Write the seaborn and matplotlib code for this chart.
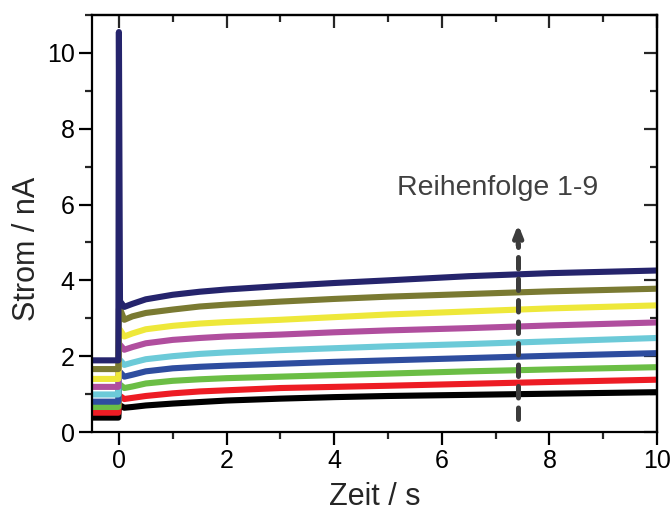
import numpy as np
import pandas as pd
import matplotlib
matplotlib.use("Agg")
import matplotlib.pyplot as plt
import seaborn as sns
from matplotlib.ticker import MultipleLocator

# ---------------- data ----------------
time_s = [-0.5, -0.01, 0.0, 0.02, 0.1, 0.25, 0.5, 1.0, 1.5, 2.0, 3.0, 4.0, 5.0, 6.5, 8.0, 10.0]

series_names = ["1", "2", "3", "4", "5", "6", "7", "8", "9"]
series_colors = ["#000000", "#ED1C24", "#6BBE45", "#2E4D9F", "#6CCAD8",
                 "#B04E9E", "#EEE83A", "#7A7A32", "#25246C"]

s1 = [0.38, 0.38, 0.70, 0.70, 0.64, 0.66, 0.70, 0.75, 0.79, 0.83, 0.88, 0.92, 0.95, 0.98, 1.01, 1.05]
s2 = [0.51, 0.51, 0.95, 0.95, 0.87, 0.90, 0.95, 1.02, 1.07, 1.10, 1.16, 1.19, 1.22, 1.27, 1.32, 1.38]
s3 = [0.66, 0.66, 1.25, 1.25, 1.16, 1.20, 1.28, 1.35, 1.39, 1.42, 1.46, 1.50, 1.54, 1.60, 1.65, 1.71]
s4 = [0.80, 0.80, 1.58, 1.58, 1.46, 1.51, 1.60, 1.68, 1.72, 1.75, 1.80, 1.85, 1.89, 1.95, 2.01, 2.08]
s5 = [0.99, 0.99, 1.90, 1.90, 1.77, 1.83, 1.92, 2.00, 2.06, 2.10, 2.16, 2.21, 2.26, 2.32, 2.39, 2.48]
s6 = [1.19, 1.19, 2.30, 2.30, 2.17, 2.24, 2.34, 2.43, 2.48, 2.52, 2.57, 2.63, 2.68, 2.74, 2.81, 2.89]
s7 = [1.40, 1.40, 2.70, 2.70, 2.52, 2.60, 2.71, 2.80, 2.86, 2.90, 2.96, 3.03, 3.10, 3.18, 3.26, 3.34]
s8 = [1.66, 1.66, 3.25, 3.25, 2.96, 3.05, 3.14, 3.23, 3.31, 3.36, 3.44, 3.51, 3.57, 3.64, 3.71, 3.78]
s9 = [1.89, 1.89, 10.55, 3.45, 3.30, 3.38, 3.50, 3.62, 3.70, 3.76, 3.85, 3.93, 4.00, 4.11, 4.19, 4.26]
all_series = [s1, s2, s3, s4, s5, s6, s7, s8, s9]

x_ticks = [0, 2, 4, 6, 8, 10]
y_ticks = [0, 2, 4, 6, 8, 10]
annotation_text = "Reihenfolge 1-9"

# ---------------- build table ----------------
rows = []
for name, vals in zip(series_names, all_series):
    for t, v in zip(time_s, vals):
        rows.append({"Zeit": t, "Strom": v, "Reihe": name})
df = pd.DataFrame(rows)

sns.set_theme(style="ticks")
plt.rcParams["font.family"] = ["Liberation Sans", "DejaVu Sans"]

fig = plt.figure(figsize=(6.72, 5.14), dpi=100)
ax = fig.add_axes([92 / 672, 1 - 432 / 514, (657 - 92) / 672, (432 - 15) / 514])

sns.lineplot(data=df, x="Zeit", y="Strom", hue="Reihe", hue_order=series_names,
             palette=series_colors, estimator=None, sort=False, lw=4.4,
             legend=False, ax=ax)
for ln in ax.lines:
    ln.set_solid_joinstyle("round")

ax.set_xlim(-0.5, 10)
ax.set_ylim(0, 11)
ax.set_xticks(x_ticks)
ax.set_yticks(y_ticks)
ax.xaxis.set_minor_locator(MultipleLocator(1))
ax.yaxis.set_minor_locator(MultipleLocator(1))

for sp in ax.spines.values():
    sp.set_linewidth(1.6)
    sp.set_visible(True)
    sp.set_color("black")

ax.tick_params(axis="both", which="major", length=9.5, width=1.6, labelsize=18,
               colors="black", pad=3, direction="out")
ax.tick_params(axis="both", which="minor", length=5, width=1.6, direction="out")

# mirrored inward ticks on top and right
top = ax.secondary_xaxis("top")
top.set_xticks(x_ticks)
top.xaxis.set_minor_locator(MultipleLocator(1))
top.tick_params(which="major", direction="in", length=9.5, width=1.6, labeltop=False)
top.tick_params(which="minor", direction="in", length=5, width=1.6)
top.spines["top"].set_linewidth(1.6)

right = ax.secondary_yaxis("right")
right.set_yticks(y_ticks)
right.yaxis.set_minor_locator(MultipleLocator(1))
right.tick_params(which="major", direction="in", length=9.5, width=1.6, labelright=False)
right.tick_params(which="minor", direction="in", length=5, width=1.6)
right.spines["right"].set_linewidth(1.6)

ax.set_xlabel("Zeit / s", fontsize=22, labelpad=6)
ax.set_ylabel("Strom / nA", fontsize=22)
ax.yaxis.set_label_coords(-0.088, 0.44)

# dashed arrow
ax.plot([7.42, 7.42], [0.35, 4.95], color="#3C3C3C", lw=3.6, ls=(0, (2.3, 2.0)),
        dash_capstyle="round")
ax.annotate("", xy=(7.42, 5.55), xytext=(7.42, 4.85),
            arrowprops=dict(arrowstyle="->,head_length=0.55,head_width=0.22",
                            color="#3C3C3C", lw=3.6, capstyle="round"))
ax.text(5.17, 6.24, annotation_text, fontsize=20.5, color="#404040",
        va="baseline", ha="left")

fig.savefig("out.png", dpi=100)
